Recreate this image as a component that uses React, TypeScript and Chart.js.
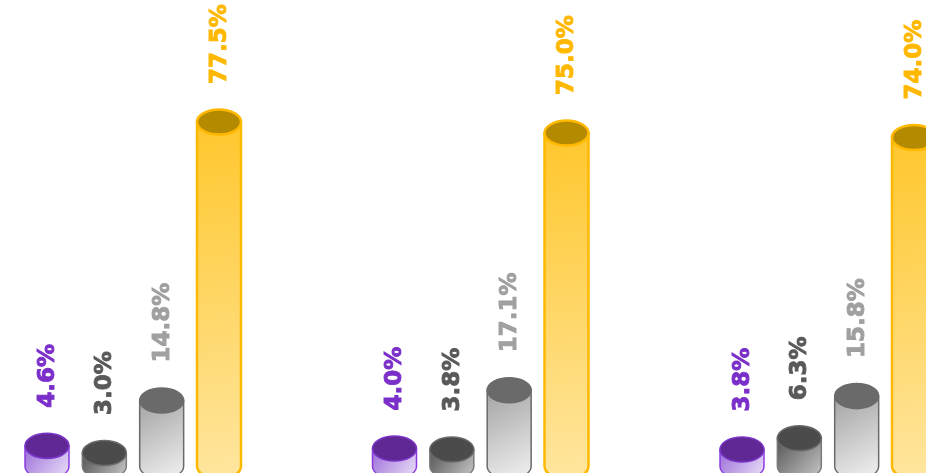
import React, { useEffect, useRef } from "react";
import { Chart, registerables } from "chart.js";

Chart.register(...registerables);

const categories = ["Group 1", "Group 2", "Group 3"];
const seriesNames = ["Series A", "Series B", "Series C", "Series D"];
const seriesA = [4.6, 4.0, 3.8];
const seriesB = [3.0, 3.8, 6.3];
const seriesC = [14.8, 17.1, 15.8];
const seriesD = [77.5, 75.0, 74.0];

type CylStyle = {
  top: string;
  topBorder: string;
  border: string;
  g0: string;
  g1: string;
  label: string;
  lw: number;
};

const styles: CylStyle[] = [
  { top: "#5f2894", topBorder: "#7b35c8", border: "#8a3be0", g0: "#9c6ed8", g1: "#ece2f9", label: "#7b2fc9", lw: 1.5 },
  { top: "#4b4b4b", topBorder: "#6a6a6a", border: "#7a7a7a", g0: "#555555", g1: "#c8c8c8", label: "#595959", lw: 1.5 },
  { top: "#6a6a6a", topBorder: "#6a6a6a", border: "#6a6a6a", g0: "#a3a3a3", g1: "#f2f2f2", label: "#a0a0a0", lw: 1.5 },
  { top: "#b38a00", topBorder: "#ffb800", border: "#ffb800", g0: "#ffc72c", g1: "#ffe6a0", label: "#ffb800", lw: 2.5 },
];

const CANVAS_W = 1060;
const CANVAS_H = 490;

const cylinderPlugin = {
  id: "cylinders",
  afterDatasetsDraw(chart: any) {
    const ctx: CanvasRenderingContext2D = chart.ctx;
    chart.data.datasets.forEach((ds: any, di: number) => {
      const meta = chart.getDatasetMeta(di);
      const st = styles[di];
      meta.data.forEach((bar: any, i: number) => {
        const { x, y, base, width } = bar.getProps(["x", "y", "base", "width"], true);
        const rx = width / 2;
        const ry = rx * 0.57;
        ctx.save();
        // body
        const grad = ctx.createLinearGradient(x - rx, y, x + rx, base + ry);
        grad.addColorStop(0, st.g0);
        grad.addColorStop(1, st.g1);
        ctx.beginPath();
        ctx.moveTo(x - rx, y);
        ctx.lineTo(x - rx, base);
        ctx.ellipse(x, base, rx, ry, 0, Math.PI, 0, true);
        ctx.lineTo(x + rx, y);
        ctx.closePath();
        ctx.fillStyle = grad;
        ctx.fill();
        ctx.lineWidth = st.lw;
        ctx.strokeStyle = st.border;
        ctx.stroke();
        // top
        ctx.beginPath();
        ctx.ellipse(x, y, rx, ry, 0, 0, Math.PI * 2);
        ctx.fillStyle = st.top;
        ctx.fill();
        ctx.strokeStyle = st.topBorder;
        ctx.stroke();
        // label
        const v = ds.data[i] as number;
        ctx.translate(x, y - 38);
        ctx.rotate(-Math.PI / 2);
        ctx.font = "bold 23px 'DejaVu Sans'";
        ctx.fillStyle = st.label;
        ctx.strokeStyle = st.label;
        ctx.lineWidth = 0.9;
        ctx.textAlign = "left";
        ctx.textBaseline = "middle";
        ctx.fillText(v.toFixed(1) + "%", 0, 1);
        ctx.strokeText(v.toFixed(1) + "%", 0, 1);
        ctx.restore();
      });
    });
  },
};

export default function App() {
  const ref = useRef<HTMLCanvasElement>(null);
  useEffect(() => {
    document.body.style.overflow = "hidden";
    document.documentElement.style.overflow = "hidden";
    const data = [seriesA, seriesB, seriesC, seriesD];
    const chart = new Chart(ref.current as HTMLCanvasElement, {
      type: "bar",
      data: {
        labels: categories,
        datasets: data.map((d, i) => ({
          label: seriesNames[i],
          data: d,
          backgroundColor: "rgba(0,0,0,0)",
          borderWidth: 0,
          categoryPercentage: 0.66,
          barPercentage: 0.767,
        })),
      },
      options: {
        responsive: false,
        animation: false,
        devicePixelRatio: 1,
        layout: { padding: { left: 9.25, right: 8.25, top: 22, bottom: CANVAS_H - 466.3 } },
        plugins: { legend: { display: false }, tooltip: { enabled: false } },
        scales: {
          x: { display: false },
          y: { display: false, min: 0, max: 100 },
        },
      },
      plugins: [cylinderPlugin],
    });
    return () => chart.destroy();
  }, []);
  return (
    <div style={{ position: "fixed", left: 0, top: 0, width: 926, height: 473, overflow: "hidden", background: "#fff" }}>
      <canvas
        ref={ref}
        width={CANVAS_W}
        height={CANVAS_H}
        style={{ position: "absolute", left: -50, top: 0, width: CANVAS_W, height: CANVAS_H }}
      />
    </div>
  );
}
